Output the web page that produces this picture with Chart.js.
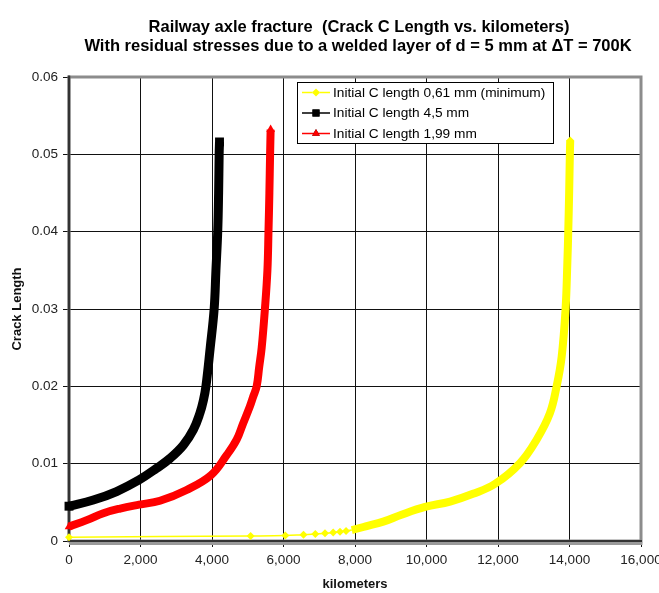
<!DOCTYPE html>
<html>
<head>
<meta charset="utf-8">
<script src="https://cdn.jsdelivr.net/npm/chart.js@4/dist/chart.umd.min.js"></script>
<style>
  html, body { margin: 0; padding: 0; background: #ffffff; }
  #wrap { width: 659px; height: 593px; position: relative; }
</style>
</head>
<body>
<div id="wrap"><canvas id="c" width="659" height="593"></canvas></div>
<script>
// Crack length (m) versus distance run (km) for three initial crack sizes
const titleLines = [
  'Railway axle fracture  (Crack C Length vs. kilometers)',
  'With residual stresses due to a welded layer of d = 5 mm at \u0394T = 700K'
];
const xAxisTitle = 'kilometers';
const yAxisTitle = 'Crack Length';

const seriesLabels = [
  'Initial C length 0,61 mm (minimum)',
  'Initial C length 4,5 mm',
  'Initial C length 1,99 mm'
];

// Initial C length 0,61 mm
const kmYellow = [0, 5080, 6050, 6560, 6890, 7160, 7390, 7580, 7750, 7910, 8300, 8790, 9300, 9960,
  10660, 11300, 11920, 12620, 13080, 13450, 13640, 13780, 13890, 13940, 13965, 13990, 14010, 14020];
const lenYellow = [0.0005, 0.00065, 0.0007, 0.00082, 0.0009, 0.001, 0.0011, 0.0012, 0.0013, 0.00142,
  0.0019, 0.0025, 0.0034, 0.0044, 0.0051, 0.0061, 0.0074, 0.0101, 0.0131, 0.0165, 0.0200, 0.0238,
  0.0300, 0.0360, 0.0400, 0.0450, 0.0500, 0.0518];

// Initial C length 4,5 mm
const kmBlack = [0, 680, 1330, 1960, 2450, 2830, 3200, 3480, 3660, 3760, 3830, 3950, 4060, 4110, 4160,
  4185, 4200, 4210];
const lenBlack = [0.0045, 0.0053, 0.0064, 0.0079, 0.0094, 0.0107, 0.0124, 0.0144, 0.0165, 0.0182,
  0.0200, 0.0250, 0.0300, 0.0350, 0.0400, 0.0450, 0.0500, 0.0516];

// Initial C length 1,99 mm
const kmRed = [0, 495, 960, 1430, 1960, 2545, 3290, 3970, 4410, 4690, 4870, 5060, 5155, 5250, 5320,
  5390, 5480, 5550, 5580, 5605, 5625, 5640];
const lenRed = [0.00185, 0.0027, 0.0036, 0.0042, 0.0047, 0.0052, 0.0066, 0.0085, 0.0111, 0.0131,
  0.0152, 0.0174, 0.0187, 0.0200, 0.0225, 0.0250, 0.0300, 0.0350, 0.0400, 0.0450, 0.0500, 0.0532];

// Axis ranges
const xMin = 0, xMax = 16000, xStep = 2000;
const yMin = 0, yMax = 0.06, yStep = 0.01;

const FONT = '"Liberation Sans", Arial, Helvetica, sans-serif';

function toPoints(xs, ys) {
  return xs.map((x, i) => ({ x: x, y: ys[i] }));
}

// Marker only at both ends of a densely sampled curve (the band hides the rest)
function endMarkers(n, r) {
  return Array.from({ length: n }, (_, i) => (i === 0 || i === n - 1 ? r : 0));
}

// Yellow series: thin connector through the sparse early points, wide band once readings get dense
const yellowDenseFrom = 7900;

const datasets = [
  {
    label: seriesLabels[0],
    data: toPoints(kmYellow, lenYellow),
    borderColor: '#ffff00',
    backgroundColor: '#ffff00',
    pointStyle: 'rectRot',
    pointRadius: kmYellow.map((k, i) => (k < yellowDenseFrom || i === kmYellow.length - 1 ? 4 : 0)),
    pointBorderWidth: 0,
    borderWidth: 8,
    segment: {
      borderWidth: ctx => (ctx.p0.parsed.x >= yellowDenseFrom ? 8 : 1.5)
    },
    sample: { w: 1.5, r: 4 }
  },
  {
    label: seriesLabels[1],
    data: toPoints(kmBlack, lenBlack),
    borderColor: '#000000',
    backgroundColor: '#000000',
    pointStyle: 'rect',
    pointRadius: endMarkers(kmBlack.length, 6.3),
    pointBorderWidth: 0,
    borderWidth: 9,
    sample: { w: 1.5, r: 5 }
  },
  {
    label: seriesLabels[2],
    data: toPoints(kmRed, lenRed),
    borderColor: '#ff0000',
    backgroundColor: '#ff0000',
    pointStyle: 'triangle',
    pointRadius: endMarkers(kmRed.length, 5),
    pointBorderWidth: 0,
    borderWidth: 8,
    sample: { w: 1.5, r: 4.5 }
  }
];
datasets.forEach(d => {
  d.showLine = true;
  d.tension = 0.4;
  d.clip = false;
  d.borderCapStyle = 'butt';
  d.borderJoinStyle = 'round';
});

// Two-line bold title above the plot
const titlePlugin = {
  id: 'titleLines',
  afterDraw(chart) {
    const ctx = chart.ctx;
    ctx.save();
    ctx.fillStyle = '#000';
    ctx.font = 'bold 16.5px ' + FONT;
    ctx.textAlign = 'center';
    ctx.textBaseline = 'middle';
    ctx.fillText(titleLines[0], 359, 27);
    ctx.fillText(titleLines[1], 358, 46);
    ctx.restore();
  }
};

// Grey plot frame and dark axis lines, drawn under the series
const framePlugin = {
  id: 'plotFrame',
  beforeDatasetsDraw(chart) {
    const { ctx, chartArea: a } = chart;
    ctx.save();
    ctx.strokeStyle = '#8c8c8c';
    ctx.lineWidth = 3;
    ctx.strokeRect(a.left, a.top, a.right - a.left, a.bottom - a.top);
    ctx.strokeStyle = '#9a9a9a';
    ctx.lineWidth = 3;
    ctx.beginPath();
    ctx.moveTo(a.left, a.bottom + 2.5);
    ctx.lineTo(a.right + 1.5, a.bottom + 2.5);
    ctx.stroke();
    ctx.strokeStyle = '#333333';
    ctx.lineWidth = 2.5;
    ctx.beginPath();
    ctx.moveTo(a.left, a.top - 1.5);
    ctx.lineTo(a.left, a.bottom + 1);
    ctx.stroke();
    ctx.lineWidth = 2;
    ctx.beginPath();
    ctx.moveTo(a.left - 1, a.bottom);
    ctx.lineTo(a.right + 1, a.bottom);
    ctx.stroke();
    ctx.restore();
  }
};

// Boxed legend inside the plot, upper right
const legendPlugin = {
  id: 'boxLegend',
  afterDraw(chart) {
    const ctx = chart.ctx;
    const box = { x: 297.5, y: 82.5, w: 256, h: 61 };
    ctx.save();
    ctx.fillStyle = '#ffffff';
    ctx.fillRect(box.x, box.y, box.w, box.h);
    ctx.strokeStyle = '#000000';
    ctx.lineWidth = 1;
    ctx.strokeRect(box.x, box.y, box.w, box.h);
    const rows = [92.5, 113, 133.5];
    chart.data.datasets.forEach((ds, i) => {
      const y = rows[i];
      ctx.strokeStyle = ds.borderColor;
      ctx.lineWidth = ds.sample.w;
      ctx.beginPath();
      ctx.moveTo(302, y);
      ctx.lineTo(330, y);
      ctx.stroke();
      Chart.helpers.drawPoint(ctx, {
        pointStyle: ds.pointStyle, radius: ds.sample.r, rotation: 0, borderWidth: 0
      }, 316, y);
      ctx.fillStyle = ds.backgroundColor;
      ctx.fill();
      ctx.fillStyle = '#000000';
      ctx.font = '13.7px ' + FONT;
      ctx.textAlign = 'left';
      ctx.textBaseline = 'middle';
      ctx.fillText(ds.label, 333, y + 0.5);
    });
    ctx.restore();
  }
};

new Chart(document.getElementById('c'), {
  type: 'scatter',
  data: { datasets: datasets },
  options: {
    responsive: false,
    devicePixelRatio: 1,
    animation: false,
    layout: { padding: { top: 77, right: 18, left: 0, bottom: 0 } },
    plugins: {
      legend: { display: false },
      title: { display: false },
      tooltip: { enabled: false }
    },
    scales: {
      x: {
        type: 'linear',
        min: xMin, max: xMax,
        afterFit: s => { s.height = 52; s.paddingLeft = 0; s.paddingRight = 0; },
        border: { display: false },
        grid: { color: '#111111', lineWidth: 1, tickLength: 6, drawTicks: true },
        ticks: {
          stepSize: xStep,
          color: '#222222',
          padding: 5,
          maxRotation: 0,
          font: { family: FONT, size: 13.5 },
          callback: v => v.toLocaleString('en-US')
        },
        title: {
          display: true,
          text: xAxisTitle,
          color: '#111111',
          font: { family: FONT, size: 13, weight: 'bold' },
          padding: { top: 0, bottom: 1 }
        }
      },
      y: {
        type: 'linear',
        min: yMin, max: yMax,
        afterFit: s => { s.width = 69; s.paddingTop = 0; s.paddingBottom = 0; },
        border: { display: false },
        grid: { color: '#111111', lineWidth: 1, tickLength: 6, drawTicks: true },
        ticks: {
          stepSize: yStep,
          color: '#222222',
          padding: 5,
          font: { family: FONT, size: 13.5 },
          callback: v => (Math.abs(v) < 1e-9 ? '0' : v.toFixed(2))
        },
        title: {
          display: true,
          text: yAxisTitle,
          color: '#111111',
          font: { family: FONT, size: 13, weight: 'bold' },
          padding: { top: 10, bottom: 0 }
        }
      }
    }
  },
  plugins: [framePlugin, titlePlugin, legendPlugin]
});
</script>
</body>
</html>
